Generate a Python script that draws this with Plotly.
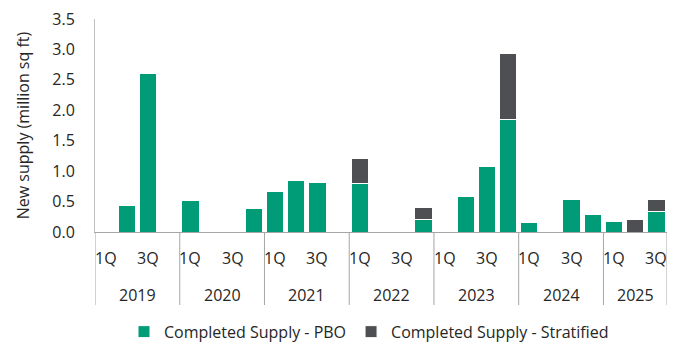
import plotly.graph_objects as go

years = ["2019", "2020", "2021", "2022", "2023", "2024", "2025"]
quarters = ["1Q", "2Q", "3Q", "4Q"]
shown_quarters = ["1Q", "3Q"]

pbo = [0, 0.44, 2.60, 0,
       0.51, 0, 0, 0.38,
       0.66, 0.84, 0.82, 0,
       0.80, 0, 0, 0.21,
       0, 0.58, 1.08, 1.85,
       0.16, 0, 0.54, 0.29,
       0.18, 0, 0.34]
stratified = [0, 0, 0, 0,
              0, 0, 0, 0,
              0, 0, 0, 0,
              0.40, 0, 0, 0.20,
              0, 0, 0, 1.08,
              0, 0, 0, 0,
              0, 0.20, 0.19]

cats, cat_year, cat_q = [], [], []
for y in years:
    for q in quarters:
        if y == "2025" and q == "4Q":
            continue
        cats.append(f"{q} {y}")
        cat_year.append(y)
        cat_q.append(q)

GREEN = "#009B77"
DARK = "#4D4F53"
AXIS = "#A6A6A6"
TXT = "#262626"
FONT = "Open Sans"
FS = 16

fig = go.Figure()
fig.add_trace(go.Bar(x=cats, y=pbo, name="Completed Supply - PBO",
                     marker=dict(color=GREEN, line=dict(color="white", width=1))))
fig.add_trace(go.Bar(x=cats, y=stratified, name="Completed Supply - Stratified",
                     marker=dict(color=DARK, line=dict(color="white", width=1))))

plot_h = 342 - 19 - 110
annotations = []
shapes = []
for i, (c, q) in enumerate(zip(cats, cat_q)):
    if q in shown_quarters:
        annotations.append(dict(x=c, xref="x", y=0, yref="paper", yanchor="middle",
                                yshift=-26, text=q, showarrow=False,
                                font=dict(family=FONT, size=FS, color=TXT)))
bounds = [-0.5]
for y in years:
    idx = [i for i, yy in enumerate(cat_year) if yy == y]
    annotations.append(dict(x=(idx[0] + idx[-1]) / 2, xref="x", y=0, yref="paper",
                            yanchor="middle", yshift=-63, text=y, showarrow=False,
                            font=dict(family=FONT, size=FS, color=TXT)))
    bounds.append(idx[-1] + 0.5)
for b in bounds:
    shapes.append(dict(type="line", xref="x", yref="paper", x0=b, x1=b,
                       y0=0, y1=-73 / plot_h, line=dict(color=AXIS, width=1)))

fig.update_layout(
    barmode="stack",
    bargap=0.18,
    width=685, height=342,
    margin=dict(l=95, r=18, t=19, b=110),
    paper_bgcolor="white", plot_bgcolor="white",
    font=dict(family=FONT, size=FS, color=TXT),
    showlegend=True,
    legend=dict(orientation="h", xref="container", yref="container",
                x=124 / 685, xanchor="left", y=0.03, yanchor="middle",
                font=dict(size=FS, color=TXT), traceorder="normal",
                itemwidth=30),
    xaxis=dict(type="category", showline=True, linecolor=AXIS, linewidth=1,
               ticks="", showticklabels=False, showgrid=False, automargin=False,
               range=[-0.5, len(cats) - 0.5]),
    yaxis=dict(range=[0, 3.5], dtick=0.5, tickformat=".1f", showline=True,
               linecolor="#BFBFBF", linewidth=1, showgrid=False, ticks="",
               ticklabelstandoff=16,
               tickfont=dict(size=FS, color=TXT), automargin=False,
               title=dict(text="New supply (million sq ft)", font=dict(size=FS, color=TXT),
                          standoff=18),
               zeroline=False),
    annotations=annotations,
    shapes=shapes,
)
fig.write_html("out.html")
